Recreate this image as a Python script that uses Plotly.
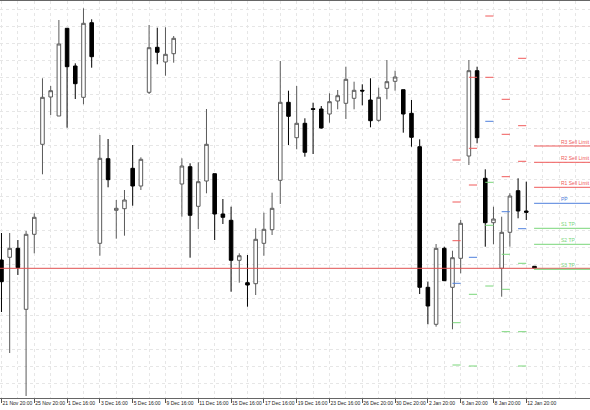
import plotly.graph_objects as go

# H12 bars, oldest first
opens = [1440.0, 1442.7, 1451.7, 1390.7, 1465.7, 1555.7, 1603.0, 1584.0, 1671.7, 1634.0,
         1602.7, 1677.3, 1456.7, 1541.3, 1489.7, 1491.3, 1531.7, 1514.0, 1607.7, 1652.7,
         1638.0, 1646.3, 1516.0, 1533.3, 1493.7, 1519.0, 1526.3, 1486.0, 1479.7, 1439.7,
         1417.3, 1416.3, 1456.7, 1470.3, 1519.7, 1597.7, 1562.3, 1576.7, 1591.3, 1591.0,
         1586.0, 1599.0, 1596.7, 1601.7, 1609.7, 1600.0, 1579.7, 1611.7, 1618.7, 1610.3,
         1586.7, 1553.3, 1412.7, 1375.7, 1451.7, 1412.7, 1441.7, 1544.0, 1629.3, 1521.7,
         1477.3, 1431.7, 1467.7, 1509.3, 1489.0, 1433.7]
highs = [1467.0, 1467.0, 1460.0, 1469.0, 1486.7, 1621.7, 1614.0, 1680.0, 1671.7, 1636.7,
         1691.7, 1680.7, 1565.0, 1561.0, 1500.0, 1510.0, 1555.0, 1542.7, 1675.0, 1672.3,
         1672.7, 1664.0, 1541.7, 1536.7, 1537.7, 1591.0, 1526.3, 1501.0, 1493.3, 1446.7,
         1445.0, 1471.7, 1487.3, 1507.3, 1639.0, 1609.3, 1614.0, 1581.7, 1597.3, 1594.0,
         1606.7, 1610.0, 1633.3, 1618.3, 1615.7, 1621.7, 1612.3, 1640.0, 1629.3, 1610.3,
         1600.0, 1560.7, 1418.3, 1456.0, 1453.3, 1449.3, 1480.0, 1640.0, 1633.3, 1530.7,
         1493.3, 1483.3, 1506.7, 1521.7, 1518.3, 1433.7]
lows = [1388.0, 1347.0, 1425.0, 1304.0, 1446.7, 1525.7, 1585.0, 1584.0, 1572.3, 1601.0,
        1595.7, 1632.3, 1444.3, 1512.7, 1461.3, 1464.3, 1494.3, 1510.0, 1606.0, 1635.7,
        1624.3, 1637.3, 1483.3, 1442.3, 1471.0, 1506.7, 1460.0, 1476.0, 1408.3, 1417.3,
        1393.3, 1405.0, 1444.3, 1465.0, 1496.0, 1555.0, 1550.7, 1543.3, 1546.0, 1571.3,
        1577.3, 1590.7, 1581.0, 1590.7, 1594.7, 1572.7, 1578.3, 1600.7, 1609.3, 1567.3,
        1553.3, 1406.0, 1375.7, 1373.3, 1419.0, 1370.7, 1426.7, 1535.0, 1556.7, 1453.3,
        1455.7, 1403.3, 1453.3, 1481.7, 1480.0, 1432.0]
closes = [1418.3, 1451.7, 1432.3, 1465.7, 1482.7, 1602.7, 1609.3, 1656.0, 1633.3, 1616.3,
          1676.7, 1643.3, 1541.7, 1520.3, 1491.7, 1500.0, 1514.0, 1540.7, 1652.3, 1647.7,
          1645.7, 1661.7, 1534.0, 1484.7, 1518.3, 1555.7, 1486.0, 1482.7, 1439.7, 1444.3,
          1415.0, 1460.7, 1470.7, 1491.7, 1597.7, 1583.7, 1576.7, 1547.7, 1590.7, 1572.0,
          1598.3, 1604.3, 1620.7, 1609.7, 1609.0, 1579.3, 1602.7, 1618.3, 1623.0, 1586.0,
          1562.7, 1412.7, 1394.0, 1451.7, 1419.3, 1442.3, 1476.7, 1629.3, 1562.3, 1477.3,
          1481.0, 1467.7, 1504.0, 1489.0, 1487.7, 1432.0]

tick_bars = [0, 4, 8, 12, 16, 20, 24, 28, 32, 36, 40, 44, 48, 52, 56, 60, 64]
tick_labels = ["21 Nov 20:00", "25 Nov 20:00", "1 Dec 16:00", "3 Dec 16:00", "5 Dec 16:00",
               "9 Dec 16:00", "11 Dec 16:00", "15 Dec 16:00", "17 Dec 16:00", "19 Dec 16:00",
               "23 Dec 16:00", "26 Dec 20:00", "30 Dec 20:00", "2 Jan 20:00", "6 Jan 20:00",
               "8 Jan 20:00", "12 Jan 20:00"]

# daily pivots, drawn over the two H12 bars of each day
pivot_start = [55, 57, 59, 61, 63]
pivot_r3 = [1540.0, 1622.7, 1727.0, 1600.7, 1641.7]
pivot_r2 = [1498.0, 1551.7, 1684.0, 1565.7, 1574.3]
pivot_r1 = [1459.3, 1515.0, 1622.7, 1523.3, 1538.7]
pivot_pp = [1416.7, 1442.7, 1578.7, 1488.3, 1471.3]
pivot_s1 = [1377.3, 1405.7, 1517.7, 1445.7, 1436.7]
pivot_s2 = [1335.0, 1334.0, 1474.7, 1410.7, 1368.3]
pivot_s3 = [1295.6, 1297.0, 1414.0, 1368.3, 1334.0]

# current levels on the right
level_names = ["R3 Sell Limit", "R2 Sell Limit", "R1 Sell Limit", "PP", "S1 TP", "S2 TP", "S3 TP"]
level_values = [1554.0, 1537.7, 1512.7, 1496.7, 1471.7, 1455.7, 1430.7]
price_line = 1431.7

RED = "#f05a5a"
BLUE = "#4f80dc"
GREEN = "#7ad67a"
level_colors = [RED, RED, RED, BLUE, GREEN, GREEN, GREEN]

bars = list(range(len(opens)))

fig = go.Figure()

fig.add_trace(go.Candlestick(
    x=bars, open=opens, high=highs, low=lows, close=closes,
    increasing=dict(line=dict(color="#5a5a5a", width=1), fillcolor="#ffffff"),
    decreasing=dict(line=dict(color="#000000", width=1), fillcolor="#000000"),
    whiskerwidth=0,
    hoverinfo="skip",
))


def dash_segments(levels_list):
    xs, ys = [], []
    for levels in levels_list:
        for start, lvl in zip(pivot_start, levels):
            xs += [start, start + 1, None]
            ys += [lvl, lvl, None]
    return xs, ys


for color, group in ((RED, [pivot_r3, pivot_r2, pivot_r1]),
                     (BLUE, [pivot_pp]),
                     (GREEN, [pivot_s1, pivot_s2, pivot_s3])):
    xs, ys = dash_segments(group)
    fig.add_trace(go.Scatter(x=xs, y=ys, mode="lines", line=dict(color=color, width=1),
                             hoverinfo="skip"))

# full-width price line
fig.add_trace(go.Scatter(x=[-2, 80], y=[price_line, price_line], mode="lines",
                         line=dict(color="#e05050", width=1), hoverinfo="skip"))

for name, val, color in zip(level_names, level_values, level_colors):
    fig.add_trace(go.Scatter(x=[64.95, 80], y=[val, val], mode="lines",
                             line=dict(color=color, width=1), hoverinfo="skip"))
    fig.add_annotation(x=68.0, y=val, text=name, showarrow=False,
                       xanchor="left", yanchor="bottom", yshift=-1,
                       font=dict(size=5, color=color, family="Liberation Sans"))

fig.update_layout(
    width=590, height=410,
    margin=dict(l=0, r=0, t=1, b=12, autoexpand=False),
    paper_bgcolor="#ffffff",
    plot_bgcolor="#ffffff",
    showlegend=False,
    hovermode=False,
    boxgap=0.38,
    font=dict(family="Liberation Sans", size=5, color="#222222"),
)
fig.update_xaxes(
    range=[-0.18, 71.77],
    rangeslider=dict(visible=False),
    tickvals=tick_bars, ticktext=tick_labels,
    tickangle=0,
    ticklabelposition="outside right",
    ticks="outside", ticklen=4, tickcolor="#555555",
    tickfont=dict(size=5, family="Liberation Sans", color="#222222"),
    showgrid=True, gridcolor="#e6e6e6", griddash="dot", gridwidth=1,
    minor=dict(dtick=2, tick0=0, showgrid=True, gridcolor="#e6e6e6", griddash="dot"),
    showline=True, linecolor="#666666", linewidth=1, mirror=True,
    zeroline=False,
)
fig.update_yaxes(
    range=[1302, 1699],
    tick0=1316.7, dtick=17,
    showticklabels=False, ticks="",
    showgrid=True, gridcolor="#e6e6e6", griddash="dot", gridwidth=1,
    zeroline=False, showline=False,
)

fig.write_html("out.html", config={"displayModeBar": False},
               post_script="document.body.style.margin='0';")
